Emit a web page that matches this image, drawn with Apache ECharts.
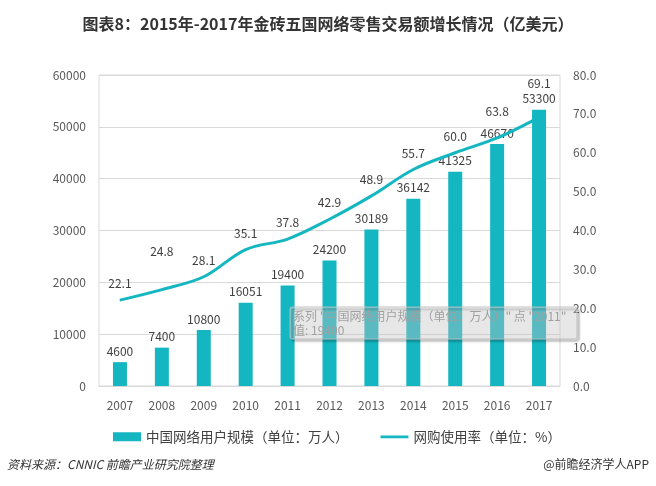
<!DOCTYPE html>
<html><head><meta charset="utf-8">
<script src="https://cdn.jsdelivr.net/npm/echarts@6/dist/echarts.min.js"></script>
<style>html,body{margin:0;padding:0;background:#fff}#c{width:656px;height:486px}</style>
</head><body><div id="c"></div>
<script>
const years = ['2007','2008','2009','2010','2011','2012','2013','2014','2015','2016','2017'];
const users = [4600, 7400, 10800, 16051, 19400, 24200, 30189, 36142, 41325, 46670, 53300];
const rate = [22.1, 24.8, 28.1, 35.1, 37.8, 42.9, 48.9, 55.7, 60.0, 63.8, 69.1];
const barName = '中国网络用户规模（单位：万人）';
const lineName = '网购使用率（单位：%）';
const C = '#14B6C1';
const font = '"Noto Sans CJK SC", "Noto Sans", sans-serif';
const labelShift = {1: -22, 9: -10, 10: -17};
const chart = echarts.init(document.getElementById('c'));
chart.setOption({
  animation: false,
  textStyle: {fontFamily: font},
  title: {text: '图表8：2015年-2017年金砖五国网络零售交易额增长情况（亿美元）', left: 'center', top: 11,
    textStyle: {fontSize: 16, fontWeight: 'bold', color: '#333', fontFamily: font}},
  legend: {left: 108, top: 425, itemWidth: 28, itemHeight: 9, itemGap: 32,
    textStyle: {fontSize: 13.5, color: '#404040', fontFamily: font},
    data: [{name: barName, icon: 'rect'},
      {name: lineName, icon: 'path://M0,0h0.01v0.01h-0.01zM0,3.3h28v2.6h-28zM0,9h0.01v0.01h-0.01z', itemStyle: {color: C, opacity: 1}}]},
  grid: {left: 99, right: 96, top: 75, bottom: 100, show: true, borderColor: '#d9d9d9', borderWidth: 1},
  xAxis: {type: 'category', data: years,
    axisLine: {lineStyle: {color: '#d9d9d9'}}, axisTick: {show: false},
    axisLabel: {color: '#595959', fontSize: 12, margin: 13}},
  yAxis: [
    {type: 'value', min: 0, max: 60000, interval: 10000,
      axisLabel: {color: '#595959', fontSize: 12, margin: 13, formatter: v => String(v)},
      splitLine: {lineStyle: {color: '#d9d9d9'}}, axisLine: {show: false}, axisTick: {show: false}},
    {type: 'value', min: 0, max: 80, interval: 10,
      axisLabel: {color: '#595959', fontSize: 12, margin: 13, formatter: v => v.toFixed(1)},
      splitLine: {show: false}, axisLine: {show: false}, axisTick: {show: false}}
  ],
  series: [
    {name: barName, type: 'bar', data: users, barWidth: 14, itemStyle: {color: C},
      label: {show: true, position: 'top', distance: 5, color: '#404040', fontSize: 12}},
    {name: lineName, type: 'line', yAxisIndex: 1, smooth: 0.35, symbol: 'circle', symbolSize: 1, showSymbol: true,
      data: rate.map((v, i) => labelShift[i] ? {value: v, label: {offset: [0, labelShift[i]]}} : v),
      lineStyle: {color: C, width: 3}, itemStyle: {color: C},
      label: {show: true, position: 'top', distance: 10, color: '#404040', fontSize: 12, formatter: p => Number(p.value).toFixed(1)}}
  ],
  graphic: [
    {type: 'rect', x: 290, y: 307, zlevel: 2, z: 100, shape: {x: 0, y: 0, width: 287, height: 32, r: 2},
      style: {fill: 'rgba(255,255,255,0.3)', stroke: 'rgba(190,190,190,0.9)', lineWidth: 1,
        shadowBlur: 2, shadowOffsetX: 2, shadowOffsetY: 2, shadowColor: 'rgba(0,0,0,0.45)'}},
    {type: 'text', x: 293, y: 309, zlevel: 2, z: 101, style: {text: '系列 "中国网络用户规模（单位：万人）" 点 "2011"\n值: 19400',
      fill: '#a0a0a0', font: '12px ' + font, lineHeight: 14}},
    {type: 'text', left: 7, top: 458, style: {text: '资料来源：CNNIC 前瞻产业研究院整理', fill: '#333', font: 'italic 12px ' + font}},
    {type: 'text', right: 7, top: 458, style: {text: '@前瞻经济学人APP', fill: '#333', font: '12px ' + font}}
  ]
});
</script></body></html>
